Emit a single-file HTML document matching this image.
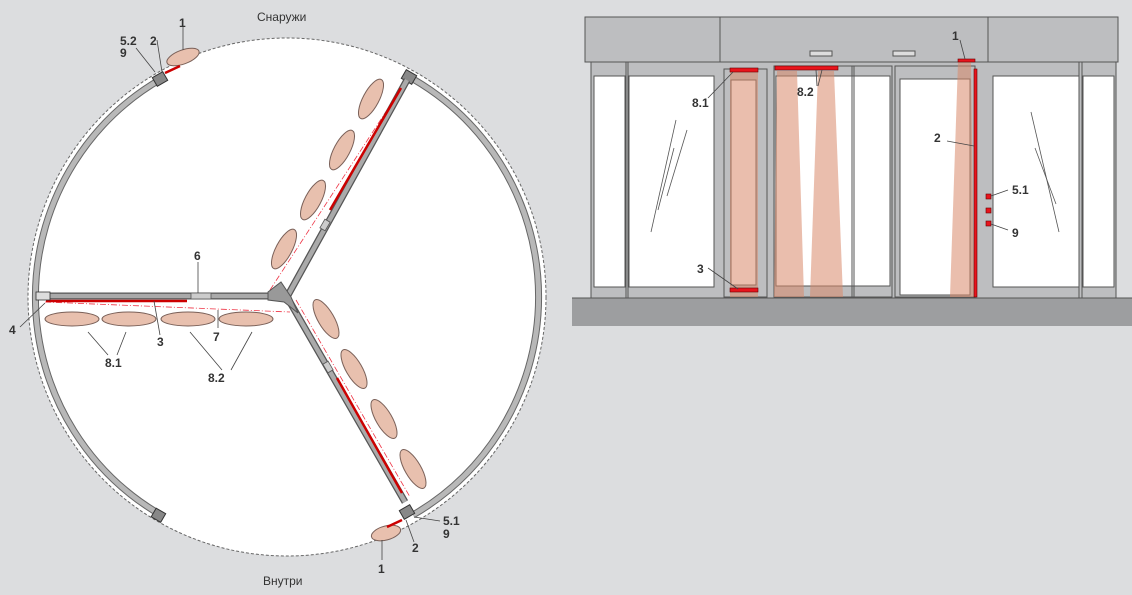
<!DOCTYPE html>
<html><head><meta charset="utf-8"><style>
body{margin:0;background:#dcdddf;}
svg{display:block}
text{font-family:"Liberation Sans",sans-serif;fill:#333;}
.l{font-weight:bold;font-size:12px}
</style></head><body>
<svg width="1132" height="595" viewBox="0 0 1132 595" xmlns="http://www.w3.org/2000/svg">
<rect width="1132" height="595" fill="#dcdddf"/>
<circle cx="287" cy="297" r="259" fill="#fff" stroke="#666" stroke-width="1" stroke-dasharray="3,2"/>
<g fill="none">
<path d="M161 79 A252 252 0 0 0 161 515" stroke="#666" stroke-width="7"/>
<path d="M161 79 A252 252 0 0 0 161 515" stroke="#b8b8b8" stroke-width="5"/>
<path d="M413 79 A252 252 0 0 1 413 515" stroke="#666" stroke-width="7"/>
<path d="M413 79 A252 252 0 0 1 413 515" stroke="#b8b8b8" stroke-width="5"/>
</g>
<rect x="154" y="74" width="12" height="10" fill="#888" stroke="#333" transform="rotate(-30 160 79)"/>
<rect x="153" y="510" width="11" height="10" fill="#888" stroke="#333" transform="rotate(30 158 515)"/>
<rect x="403" y="72" width="12" height="10" fill="#888" stroke="#333" transform="rotate(30 409 77)"/>
<rect x="401" y="507" width="12" height="10" fill="#888" stroke="#333" transform="rotate(-30 407 512)"/>
<g fill="#e8c0ae" stroke="#7a6058" stroke-width="1">
<ellipse cx="183" cy="57" rx="17" ry="7" transform="rotate(-20 183 57)"/>
<ellipse cx="72" cy="319" rx="27" ry="7"/>
<ellipse cx="129" cy="319" rx="27" ry="7"/>
<ellipse cx="188" cy="319" rx="27" ry="7"/>
<ellipse cx="246" cy="319" rx="27" ry="7"/>
<ellipse cx="371" cy="99" rx="22" ry="8" transform="rotate(-62 371 99)"/>
<ellipse cx="342" cy="150" rx="22" ry="8" transform="rotate(-62 342 150)"/>
<ellipse cx="313" cy="200" rx="22" ry="8" transform="rotate(-62 313 200)"/>
<ellipse cx="284" cy="249" rx="22" ry="8" transform="rotate(-62 284 249)"/>
<ellipse cx="326" cy="319" rx="22" ry="8" transform="rotate(60 326 319)"/>
<ellipse cx="354" cy="369" rx="22" ry="8" transform="rotate(60 354 369)"/>
<ellipse cx="384" cy="419" rx="22" ry="8" transform="rotate(60 384 419)"/>
<ellipse cx="413" cy="469" rx="22" ry="8" transform="rotate(60 413 469)"/>
<ellipse cx="386" cy="533" rx="15" ry="7" transform="rotate(-15 386 533)"/>
</g>
<g stroke="#e34" stroke-width="0.8" fill="none" stroke-dasharray="6,2,1,2">
<path d="M45 302 L290 312"/>
<path d="M270 290 L400 90"/>
<path d="M296 300 L410 497"/>
</g>
<g stroke-linecap="butt">
<path d="M40 296 L268 296 L287 297 L407 80 M287 297 L405 502" stroke="#555" stroke-width="7" fill="none"/>
<path d="M40 296 L268 296 L287 297 L407 80 M287 297 L405 502" stroke="#aaa" stroke-width="4.5" fill="none"/>
</g>
<path d="M268 292 L281 282 L291 297 L298 313 L284 302 L268 300 Z" fill="#999" stroke="#555" stroke-width="1"/>
<g stroke="#c00" stroke-width="2.5">
<line x1="46" y1="301" x2="187" y2="301"/>
<line x1="330" y1="210" x2="401" y2="88"/>
<line x1="337" y1="378" x2="402" y2="493"/>
<line x1="165" y1="73" x2="180" y2="66"/>
<line x1="387" y1="527" x2="402" y2="520"/>
</g>
<rect x="191" y="293" width="20" height="6" fill="#ccc" stroke="#555" stroke-width="0.8"/>
<rect x="322" y="220" width="6" height="10" fill="#ccc" stroke="#555" stroke-width="0.8" transform="rotate(30 325 225)"/>
<rect x="325" y="362" width="6" height="10" fill="#ccc" stroke="#555" stroke-width="0.8" transform="rotate(-30 328 367)"/>
<rect x="36" y="292" width="14" height="8" fill="#ddd" stroke="#333" stroke-width="0.8"/>
<g stroke="#444" stroke-width="0.8">
<line x1="183" y1="27" x2="183" y2="50"/>
<line x1="157" y1="40" x2="162" y2="72"/>
<line x1="136" y1="48" x2="155" y2="72"/>
<line x1="198" y1="262" x2="198" y2="293"/>
<line x1="20" y1="327" x2="45" y2="303"/>
<line x1="160" y1="335" x2="154" y2="301"/>
<line x1="218" y1="328" x2="218" y2="310"/>
<line x1="108" y1="355" x2="88" y2="332"/><line x1="117" y1="355" x2="126" y2="332"/>
<line x1="222" y1="370" x2="190" y2="332"/><line x1="231" y1="370" x2="252" y2="332"/>
<line x1="382" y1="560" x2="382" y2="540"/>
<line x1="414" y1="542" x2="406" y2="520"/>
<line x1="440" y1="521" x2="414" y2="517"/>
</g>
<text x="257" y="21" font-size="12">Снаружи</text>
<text x="263" y="585" font-size="12">Внутри</text>
<text class="l" x="179" y="27">1</text>
<text class="l" x="120" y="45">5.2</text>
<text class="l" x="150" y="45">2</text>
<text class="l" x="120" y="57">9</text>
<text class="l" x="194" y="260">6</text>
<text class="l" x="9" y="334">4</text>
<text class="l" x="157" y="346">3</text>
<text class="l" x="213" y="341">7</text>
<text class="l" x="105" y="367">8.1</text>
<text class="l" x="208" y="382">8.2</text>
<text class="l" x="378" y="573">1</text>
<text class="l" x="412" y="552">2</text>
<text class="l" x="443" y="525">5.1</text>
<text class="l" x="443" y="538">9</text>

<g stroke="#555" stroke-width="1">
<rect x="585" y="17" width="533" height="45" fill="#bdbec0"/>
<line x1="720" y1="17" x2="720" y2="62"/>
<line x1="988" y1="17" x2="988" y2="62"/>
<rect x="810" y="51" width="22" height="5" fill="#ddd"/>
<rect x="893" y="51" width="22" height="5" fill="#ddd"/>
<rect x="591" y="62" width="525" height="236" fill="#bdbec0"/>
<rect x="594" y="76" width="31" height="211" fill="#fff"/>
<rect x="629" y="76" width="85" height="211" fill="#fff"/>
<line x1="626" y1="62" x2="626" y2="298"/><line x1="628" y1="62" x2="628" y2="298"/>
<rect x="724" y="69" width="43" height="228" fill="#bdbec0"/>
<rect x="731" y="80" width="25" height="205" fill="#fff"/>
<rect x="774" y="66" width="118" height="231" fill="#bdbec0"/>
<rect x="776" y="76" width="114" height="210" fill="#fff"/>
<line x1="852" y1="66" x2="852" y2="297"/><line x1="854" y1="66" x2="854" y2="297"/>
<rect x="895" y="66" width="80" height="231" fill="#bdbec0"/>
<rect x="900" y="79" width="70" height="216" fill="#fff"/>
<rect x="993" y="76" width="86" height="211" fill="#fff"/>
<rect x="1083" y="76" width="31" height="211" fill="#fff"/>
<line x1="1079" y1="62" x2="1079" y2="298"/><line x1="1082" y1="62" x2="1082" y2="298"/>
</g>
<rect x="572" y="298" width="560" height="28" fill="#9d9ea0"/>
<line x1="572" y1="298" x2="1132" y2="298" stroke="#555"/>
<g stroke="#555" stroke-width="0.8">
<line x1="676" y1="120" x2="651" y2="232"/><line x1="687" y1="130" x2="667" y2="196"/><line x1="674" y1="148" x2="658" y2="210"/>
<line x1="1031" y1="112" x2="1059" y2="232"/><line x1="1035" y1="148" x2="1056" y2="204"/>
</g>
<g fill="#d9886a" fill-opacity="0.55">
<rect x="730" y="72" width="28" height="225"/>
<polygon points="777,71 797,71 804,297 774,297"/>
<polygon points="818,71 834,71 843,297 810,297"/>
<polygon points="958,62 971,62 974,297 950,297"/>
</g>
<g fill="#e8141c" stroke="#600" stroke-width="0.6">
<rect x="730" y="68" width="28" height="4"/>
<rect x="730" y="288" width="28" height="4"/>
<rect x="775" y="66" width="63" height="4"/>
<rect x="958" y="59" width="17" height="3"/>
<rect x="974" y="69" width="3" height="228"/>
<rect x="986" y="194" width="5" height="5"/>
<rect x="986" y="208" width="5" height="5"/>
<rect x="986" y="221" width="5" height="5"/>
</g>
<g stroke="#444" stroke-width="0.8">
<line x1="960" y1="40" x2="965" y2="59"/>
<line x1="947" y1="141" x2="974" y2="146"/>
<line x1="708" y1="98" x2="733" y2="72"/>
<line x1="817" y1="86" x2="816" y2="70"/><line x1="818" y1="86" x2="822" y2="70"/>
<line x1="708" y1="268" x2="738" y2="289"/>
<line x1="991" y1="196" x2="1008" y2="190"/>
<line x1="991" y1="224" x2="1008" y2="230"/>
</g>
<text class="l" x="952" y="40">1</text>
<text class="l" x="934" y="142">2</text>
<text class="l" x="692" y="107">8.1</text>
<text class="l" x="797" y="96">8.2</text>
<text class="l" x="697" y="273">3</text>
<text class="l" x="1012" y="194">5.1</text>
<text class="l" x="1012" y="237">9</text>
</svg>
</body></html>
